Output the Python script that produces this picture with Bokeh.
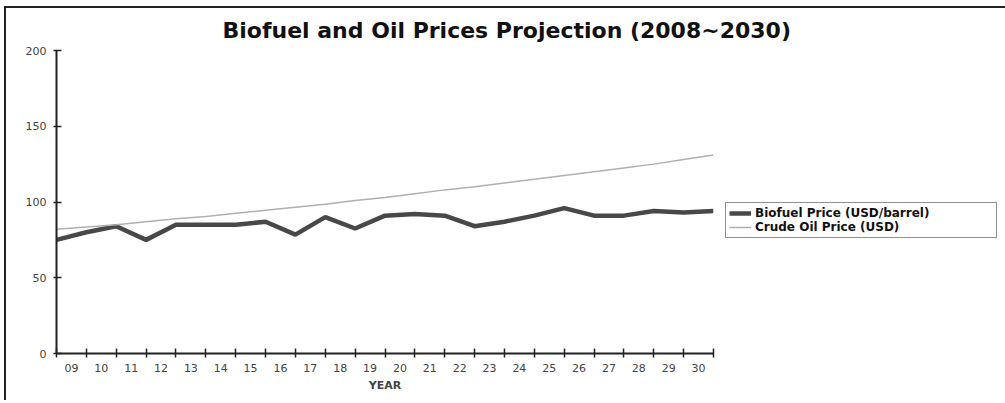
from bokeh.plotting import figure
from bokeh.models import FixedTicker, Legend, LegendItem, Range1d
from bokeh.embed import file_html
from bokeh.resources import INLINE

years = [2008, 2009, 2010, 2011, 2012, 2013, 2014, 2015, 2016, 2017, 2018, 2019,
         2020, 2021, 2022, 2023, 2024, 2025, 2026, 2027, 2028, 2029, 2030]
year_labels = ["09", "10", "11", "12", "13", "14", "15", "16", "17", "18", "19",
               "20", "21", "22", "23", "24", "25", "26", "27", "28", "29", "30"]
biofuel = [75, 80, 84, 75, 85, 85, 85, 87, 78.5, 90, 82.5, 91,
           92, 91, 84, 87, 91, 96, 91, 91, 94, 93, 94]
crude_oil = [82, 83.5, 85, 87, 89, 90.5, 92.5, 94.5, 96.5, 98.5, 101, 103,
             105.5, 108, 110, 112.5, 115, 117.5, 120, 122.5, 125, 128, 131]
y_ticks = [0, 50, 100, 150, 200]

p = figure(frame_width=657, frame_height=303, output_backend="svg", toolbar_location=None,
           x_range=Range1d(years[0], years[-1]), y_range=Range1d(0, 200),
           min_border_left=50, min_border_right=0, min_border_top=42, min_border_bottom=47)
p.styles = {"border-top": "2px solid #222", "border-left": "2px solid #222",
            "margin-left": "4px", "margin-top": "6px"}

p.title.text = "Biofuel and Oil Prices Projection (2008~2030)"
p.title.text_font = "DejaVu Sans"
p.title.text_font_style = "bold"
p.title.text_font_size = "22px"
p.title.text_color = "#111111"
p.title.align = "left"
p.title.offset = 166
p.title.standoff = 15

p.outline_line_color = None
p.grid.visible = False

tick_pos = [y + 0.5 for y in years[:-1]]
p.xaxis.ticker = FixedTicker(ticks=tick_pos, minor_ticks=years)
p.xaxis.major_label_overrides = {t: l for t, l in zip(tick_pos, year_labels)}
p.xaxis.major_tick_in = 0
p.xaxis.major_tick_out = 0
p.xaxis.minor_tick_in = 5
p.xaxis.minor_tick_out = 4
p.xaxis.minor_tick_line_color = "#222222"
p.xaxis.minor_tick_line_width = 1.5
p.xaxis.axis_label = "YEAR"
p.xaxis.axis_label_text_font = "DejaVu Sans"
p.xaxis.axis_label_text_font_style = "bold"
p.xaxis.axis_label_text_font_size = "11px"
p.xaxis.axis_label_standoff = 4

p.yaxis.ticker = FixedTicker(ticks=y_ticks)
p.yaxis.major_tick_in = 5
p.yaxis.major_tick_out = 3
p.yaxis.minor_tick_line_color = None
p.yaxis.major_tick_line_width = 1.5
p.yaxis.major_label_standoff = 7

for ax in (p.xaxis, p.yaxis):
    ax.axis_line_color = "#222222"
    ax.axis_line_width = 2
    ax.major_tick_line_color = "#222222"
    ax.major_label_text_font = "DejaVu Sans"
    ax.major_label_text_font_size = "11px"
    ax.major_label_text_color = "#444444"
p.xaxis.major_label_standoff = 6

r1 = p.line(years, biofuel, line_color="#484848", line_width=4.5)
r2 = p.line(years, crude_oil, line_color="#b0b0b0", line_width=1.5)

legend = Legend(items=[LegendItem(label="Biofuel Price (USD/barrel)", renderers=[r1]),
                       LegendItem(label="Crude Oil Price (USD)", renderers=[r2])],
                location=(12, 115))
legend.label_text_font = "DejaVu Sans"
legend.label_text_font_style = "bold"
legend.label_text_font_size = "12px"
legend.label_text_color = "#111111"
legend.border_line_color = "#222222"
legend.border_line_width = 1.5
legend.padding = 3
legend.spacing = 0
legend.margin = 0
legend.glyph_width = 22
legend.glyph_height = 14
legend.label_height = 14
legend.label_width = 238
legend.label_standoff = 4
p.add_layout(legend, "right")

open("out.html", "w").write(file_html(p, INLINE))
